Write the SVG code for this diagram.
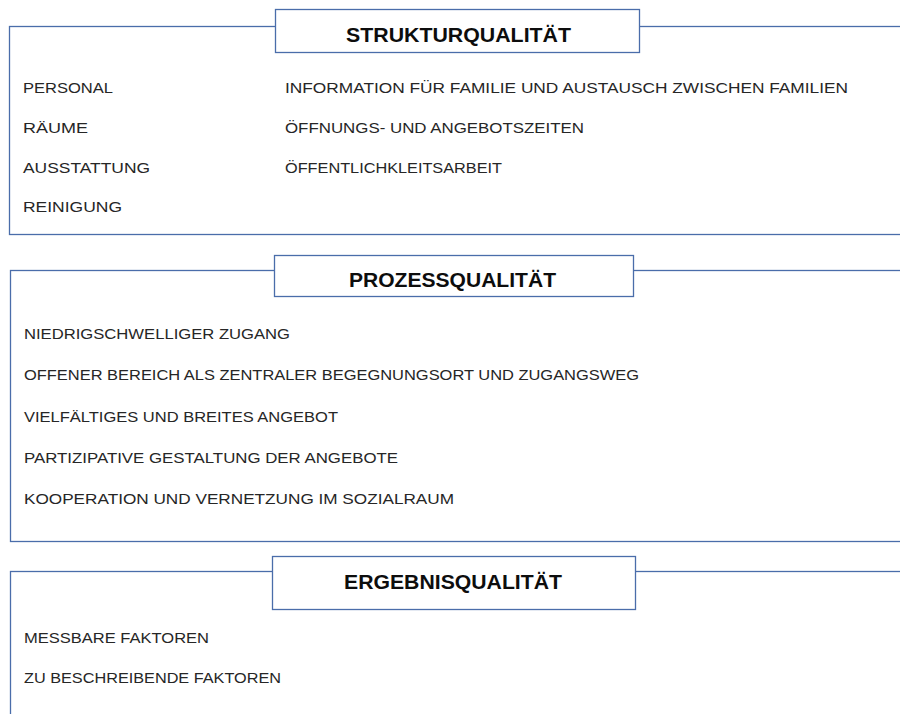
<svg xmlns="http://www.w3.org/2000/svg" width="900" height="714" viewBox="0 0 900 714">
<style>
.frame{fill:none;stroke:#4A6DAA;stroke-width:1.3}
.tbox{fill:#ffffff;stroke:#4A6DAA;stroke-width:1.3}
.item{font-family:"Liberation Sans",Arial,sans-serif;font-size:15.5px;fill:#262626}
.title{font-family:"Liberation Sans",Arial,sans-serif;font-size:20.5px;font-weight:bold;fill:#0d0d0d}
</style>
<rect width="900" height="714" fill="#ffffff"/>
<g id="struktur">
<rect class="frame" x="9.5" y="26.5" width="900" height="208"/>
<rect class="tbox" x="275.5" y="9.5" width="364" height="43"/>
<text class="title" x="346" y="42" textLength="225" lengthAdjust="spacingAndGlyphs">STRUKTURQUALITÄT</text>
<text class="item" x="23" y="93" textLength="90" lengthAdjust="spacingAndGlyphs">PERSONAL</text>
<text class="item" x="23" y="133" textLength="65" lengthAdjust="spacingAndGlyphs">RÄUME</text>
<text class="item" x="23" y="172.5" textLength="127" lengthAdjust="spacingAndGlyphs">AUSSTATTUNG</text>
<text class="item" x="23" y="211.5" textLength="99" lengthAdjust="spacingAndGlyphs">REINIGUNG</text>
<text class="item" x="285" y="93" textLength="563" lengthAdjust="spacingAndGlyphs">INFORMATION FÜR FAMILIE UND AUSTAUSCH ZWISCHEN FAMILIEN</text>
<text class="item" x="285" y="133" textLength="299" lengthAdjust="spacingAndGlyphs">ÖFFNUNGS- UND ANGEBOTSZEITEN</text>
<text class="item" x="285" y="172.5" textLength="217" lengthAdjust="spacingAndGlyphs">ÖFFENTLICHKLEITSARBEIT</text>
</g>
<g id="prozess">
<rect class="frame" x="10.5" y="270.5" width="900" height="271"/>
<rect class="tbox" x="274.5" y="255.5" width="359" height="41"/>
<text class="title" x="349" y="287" textLength="207" lengthAdjust="spacingAndGlyphs">PROZESSQUALITÄT</text>
<text class="item" x="24" y="339" textLength="266" lengthAdjust="spacingAndGlyphs">NIEDRIGSCHWELLIGER ZUGANG</text>
<text class="item" x="24" y="380" textLength="615" lengthAdjust="spacingAndGlyphs">OFFENER BEREICH  ALS ZENTRALER BEGEGNUNGSORT UND ZUGANGSWEG</text>
<text class="item" x="24" y="421.5" textLength="314" lengthAdjust="spacingAndGlyphs">VIELFÄLTIGES UND BREITES ANGEBOT</text>
<text class="item" x="24" y="462.5" textLength="374" lengthAdjust="spacingAndGlyphs">PARTIZIPATIVE GESTALTUNG DER ANGEBOTE</text>
<text class="item" x="24" y="504" textLength="430" lengthAdjust="spacingAndGlyphs">KOOPERATION UND VERNETZUNG IM SOZIALRAUM</text>
</g>
<g id="ergebnis">
<rect class="frame" x="10.5" y="571.5" width="900" height="200"/>
<rect class="tbox" x="272.5" y="556.5" width="363" height="53"/>
<text class="title" x="344" y="589" textLength="218" lengthAdjust="spacingAndGlyphs">ERGEBNISQUALITÄT</text>
<text class="item" x="24" y="643" textLength="185" lengthAdjust="spacingAndGlyphs">MESSBARE FAKTOREN</text>
<text class="item" x="24" y="683" textLength="257" lengthAdjust="spacingAndGlyphs">ZU BESCHREIBENDE FAKTOREN</text>
</g>
<g id="connectors"/>
</svg>
